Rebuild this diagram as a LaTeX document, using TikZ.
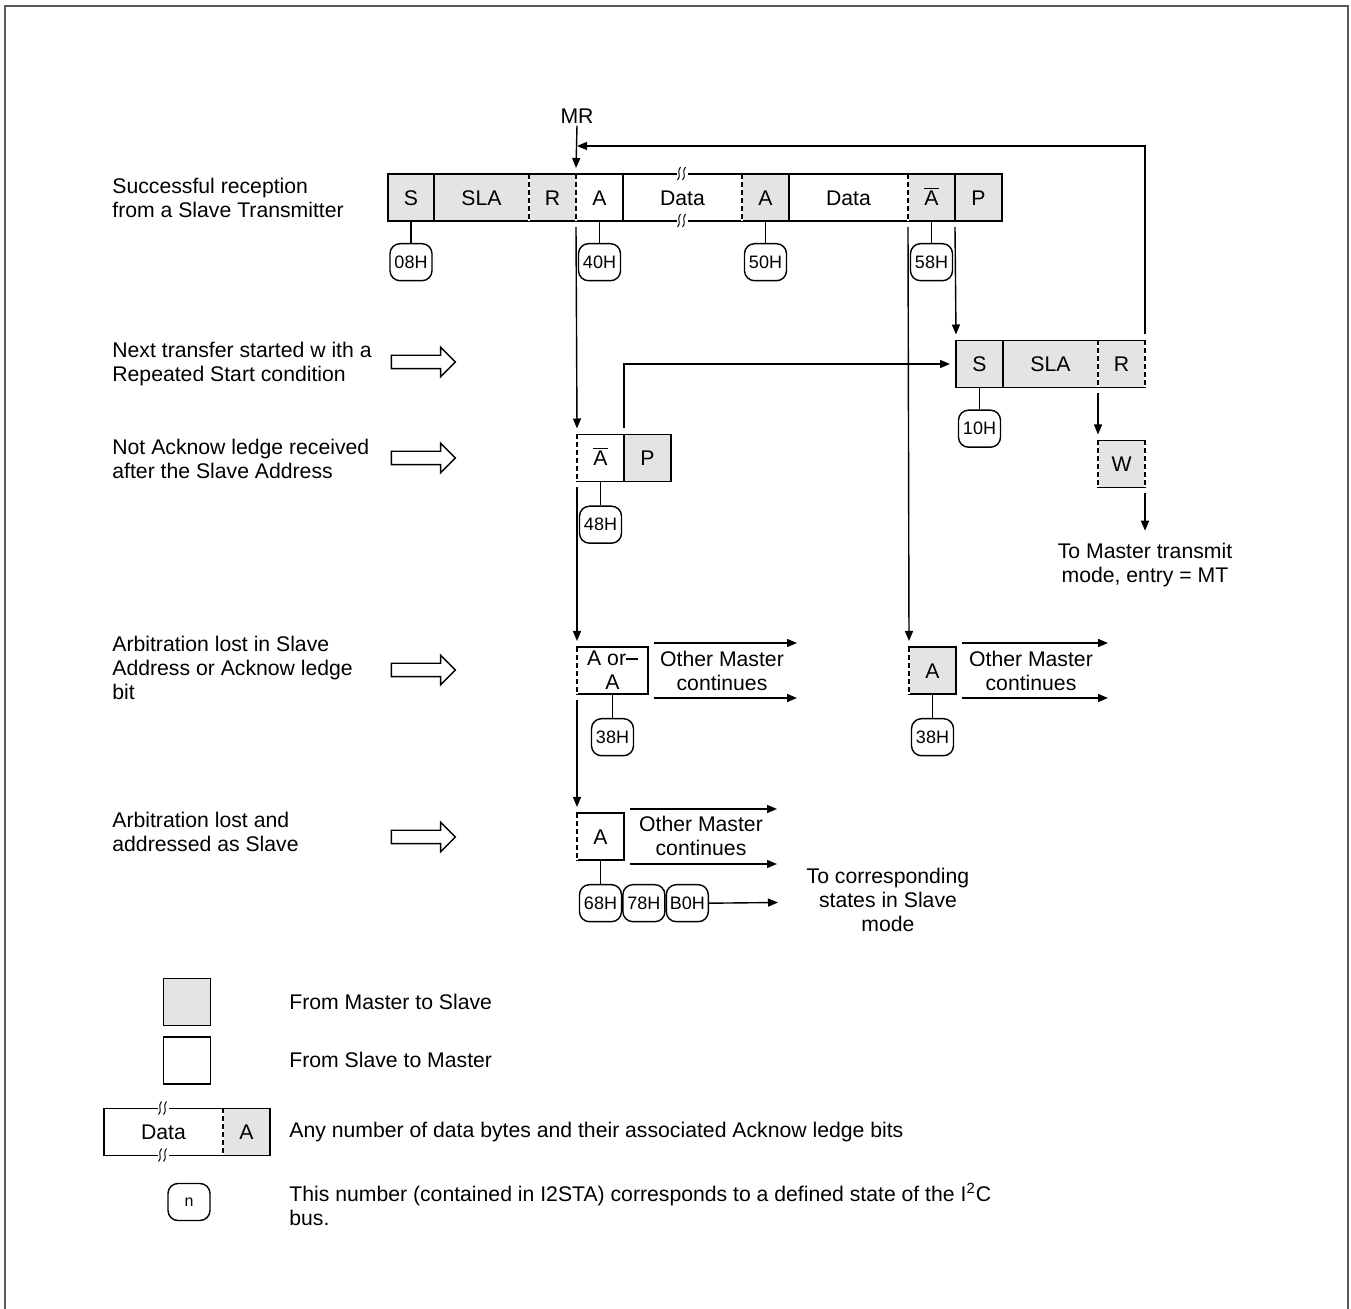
\documentclass[tikz,border=0pt]{standalone}
\usepackage{fontspec}
\setmainfont{Liberation Sans}
\usepackage{tikz}
\usetikzlibrary{arrows.meta,positioning,shapes.arrows}
\definecolor{I2CGrey}{HTML}{E4E4E4}
\definecolor{I2CFrame}{HTML}{5A5A5A}
\newcommand{\nack}{$\overline{\mbox{A}}$}
\tikzset{
  i2ccell/.style={
    draw,
    line width=0.7pt,
    minimum width=23.5pt,
    minimum height=23.5pt,
    text height=8pt,
    text depth=0pt,
    inner sep=0pt,
    outer sep=0pt,
    font=\fontsize{10.6}{12}\selectfont
  },
  i2cmtos/.style={i2ccell, fill=I2CGrey},
  i2cstom/.style={i2ccell, fill=white},
  i2cdash/.style={preaction={draw=white, solid, line width=1.2pt}, draw=black, line width=0.7pt, dash pattern=on 2.5pt off 1.5pt},
  i2ccode/.style={
    draw,
    line width=0.7pt,
    rounded corners=5pt,
    minimum width=21pt,
    minimum height=18.5pt,
    inner sep=0.5pt,
    font=\fontsize{9}{10}\selectfont
  },
  i2cline/.style={line width=0.7pt},
  i2cflow/.style={-{Triangle[length=5pt,width=4pt]}, line width=0.7pt},
  i2clabel/.style={anchor=west, align=left, inner sep=0pt, font=\fontsize{10.6}{12}\selectfont},
  i2ctext/.style={align=center, inner sep=1pt, font=\fontsize{10.6}{12}\selectfont},
  i2chollow/.style={single arrow, draw, line width=0.7pt, minimum height=32pt, single arrow head extend=4pt, inner xsep=0pt, inner ysep=3pt},
  i2cbreak/.pic={
    \fill[white] (-6,-2.5) rectangle (5,2.5);
    \draw[line width=0.5pt] (-5,6) .. controls (-1,3) and (-6,-3) .. (-2,-7);
    \draw[line width=0.5pt] (0,6) .. controls (4,3) and (-1,-3) .. (3,-7);
  }
}

\begin{document}
\begin{tikzpicture}[x=0.5pt, y=-0.5pt]
  \useasboundingbox (0,0) rectangle (1351,1309);
  \draw[I2CFrame, line width=1pt] (5,1309) -- (5,6) -- (1348,6) -- (1348,1309);

  \node[i2clabel] (l1) at (112,197.5) {Successful reception\\from a Slave Transmitter};
  \node[i2clabel] (l2) at (112,364) {Next transfer started w ith a\\Repeated Start condition};
  \node[i2clabel] (l3) at (112,459) {Not Acknow ledge received\\after the Slave Address};
  \node[i2clabel] (l4) at (112,668) {Arbitration lost in Slave\\Address or Acknow ledge\\bit};
  \node[i2clabel] (l5) at (112,832) {Arbitration lost and\\addressed as Slave};
  \node[i2chollow] (h2) at (420,362) {};
  \node[i2chollow] (h3) at (420,458) {};
  \node[i2chollow] (h4) at (420,670) {};
  \node[i2chollow] (h5) at (420,837) {};

  \node[i2cmtos, minimum width=23pt, anchor=west] (r1s) at (388,197.5) {S};
  \node[i2cmtos, minimum width=47.5pt, right=0pt of r1s] (r1sla) {SLA};
  \node[i2cmtos, right=0pt of r1sla] (r1r) {R};
  \node[i2cstom, right=0pt of r1r] (r1a) {A};
  \node[i2cstom, minimum width=59.5pt, right=0pt of r1a] (r1d) {Data};
  \node[i2cmtos, right=0pt of r1d] (r1aa) {A};
  \node[i2cstom, minimum width=59.5pt, right=0pt of r1aa] (r1dd) {Data};
  \node[i2cmtos, right=0pt of r1dd] (r1na) {\nack};
  \node[i2cmtos, right=0pt of r1na] (r1p) {P};
  \draw[i2cdash] (r1r.north west) -- (r1r.south west);
  \draw[i2cdash] (r1a.north west) -- (r1a.south west);
  \draw[i2cdash] (r1aa.north west) -- (r1aa.south west);
  \draw[i2cdash] (r1na.north west) -- (r1na.south west);
  \pic at (r1d.north) {i2cbreak};
  \pic at (r1d.south) {i2cbreak};
  \node[i2ccode, below=11pt of r1s] (c08) {08H};
  \node[i2ccode, below=11pt of r1a] (c40) {40H};
  \node[i2ccode, below=11pt of r1aa] (c50) {50H};
  \node[i2ccode, below=11pt of r1na] (c58) {58H};
  \draw[i2cline] (r1s.south) -- (c08.north);
  \draw[i2cline] (r1a.south) -- (c40.north);
  \draw[i2cline] (r1aa.south) -- (c50.north);
  \draw[i2cline] (r1na.south) -- (c58.north);

  \node[i2ctext] (mr) at (577,116) {MR};
  \coordinate (mrjoin) at (577,146);
  \draw[i2cflow] (mr.south) -- ([yshift=3pt]r1a.north west);

  \node[i2cmtos, anchor=west] (r2s) at (956,364) {S};
  \node[i2cmtos, minimum width=47.5pt, right=0pt of r2s] (r2sla) {SLA};
  \node[i2cmtos, right=0pt of r2sla] (r2r) {R};
  \draw[i2cdash] (r2r.north west) -- (r2r.south west);
  \draw[i2cdash] (r2r.north east) -- (r2r.south east);
  \node[i2ccode, below=11pt of r2s] (c10) {10H};
  \draw[i2cline] (r2s.south) -- (c10.north);
  \draw[i2cflow] ([yshift=3pt]r2r.north east) |- (mrjoin);

  \node[i2cstom, anchor=west] (r3na) at (577,458) {\nack};
  \node[i2cmtos, right=0pt of r3na] (r3p) {P};
  \draw[i2cdash] (r3na.north west) -- (r3na.south west);
  \node[i2ccode, below=12pt of r3na] (c48) {48H};
  \draw[i2cline] (r3na.south) -- (c48.north);

  \node[i2cmtos, anchor=west] (r3w) at (1098,464) {W};
  \draw[i2cdash] (r3w.north west) -- (r3w.south west);
  \draw[i2cdash] (r3w.north east) -- (r3w.south east);
  \node[i2ctext] (tomt) at (1145,565) {To Master transmit\\mode, entry = MT};

  \node[i2cstom, minimum width=35.5pt, text height=19.5pt, text depth=0pt, align=center, anchor=west] (r4ao) at (577,670.5) {A or\rule[0.3em]{0.55em}{0.6pt}\\A};
  \draw[i2cdash] (r4ao.north west) -- (r4ao.south west);
  \node[i2ccode, below=12pt of r4ao] (c38a) {38H};
  \draw[i2cline] (r4ao.south) -- (c38a.north);
  \node[i2ctext] (om1) at (722,670.5) {Other Master\\continues};
  \coordinate (om1n) at (797,643);
  \coordinate (om1s) at (797,698);
  \draw[i2cflow] ([xshift=3pt,yshift=2pt]r4ao.north east) -- (om1n);
  \draw[i2cflow] ([xshift=3pt,yshift=-2pt]r4ao.south east) -- (om1s);

  \node[i2cmtos, anchor=west] (r4a) at (909,670.5) {A};
  \draw[i2cdash] (r4a.north west) -- (r4a.south west);
  \node[i2ccode, below=12pt of r4a] (c38b) {38H};
  \draw[i2cline] (r4a.south) -- (c38b.north);
  \node[i2ctext] (om2) at (1031,670.5) {Other Master\\continues};
  \coordinate (om2n) at (1108,643);
  \coordinate (om2s) at (1108,698);
  \draw[i2cflow] ([xshift=3pt,yshift=2pt]r4a.north east) -- (om2n);
  \draw[i2cflow] ([xshift=3pt,yshift=-2pt]r4a.south east) -- (om2s);

  \node[i2cstom, anchor=west] (r5a) at (577,836.5) {A};
  \draw[i2cdash] (r5a.north west) -- (r5a.south west);
  \node[i2ctext] (om3) at (701,835.5) {Other Master\\continues};
  \coordinate (om3n) at (777,809);
  \coordinate (om3s) at (777,864);
  \draw[i2cflow] ([xshift=3pt,yshift=2pt]r5a.north east) -- (om3n);
  \draw[i2cflow] ([xshift=3pt,yshift=-2pt]r5a.south east) -- (om3s);
  \node[i2ccode, below=12pt of r5a] (c68) {68H};
  \node[i2ccode, right=0pt of c68] (c78) {78H};
  \node[i2ccode, right=0pt of c78] (cb0) {B0H};
  \draw[i2cline] (r5a.south) -- (c68.north);
  \node[i2ctext] (slv) at (888,900) {To corresponding\\states in Slave\\mode};
  \coordinate (slvin) at (778,902.5);
  \draw[i2cflow] (cb0.east) -- (slvin);

  \draw[i2cflow] ([yshift=-3pt]r1a.south west) -- ([yshift=3pt]r3na.north west);
  \draw[i2cflow] ([yshift=-3pt]r3na.south west) -- ([yshift=3pt]r4ao.north west);
  \draw[i2cflow] ([yshift=-3pt]r4ao.south west) -- ([yshift=3pt]r5a.north west);
  \draw[i2cflow] ([yshift=-3pt]r1na.south west) -- ([yshift=3pt]r4a.north west);
  \draw[i2cflow] ([yshift=-3pt]r1p.south west) -- ([yshift=3pt]r2s.north west);
  \draw[i2cflow] ([yshift=3pt]r3p.north west) |- ([xshift=-3pt]r2s.west);
  \draw[i2cflow] ([yshift=-3pt]r2r.south west) -- ([yshift=3pt]r3w.north west);
  \draw[i2cflow] ([yshift=-3pt]r3w.south east) -- ([yshift=5pt]tomt.north);

  \node[i2cmtos] (lgm) at (187,1002) {};
  \node[i2clabel] (tgm) at (289,1002) {From Master to Slave};
  \node[i2cstom] (lsm) at (187,1060.5) {};
  \node[i2clabel] (tsm) at (289,1060) {From Slave to Master};
  \node[i2cstom, minimum width=59.5pt, anchor=west] (ld) at (104,1132) {Data};
  \node[i2cmtos, right=0pt of ld] (la) {A};
  \draw[i2cdash] (la.north west) -- (la.south west);
  \pic at (ld.north) {i2cbreak};
  \pic at (ld.south) {i2cbreak};
  \node[i2clabel] (tdata) at (289,1132) {Any number of data bytes and their associated Acknow ledge bits};
  \node[i2ccode, font=\fontsize{8}{9}\selectfont] (ln) at (189,1202) {n};
  \node[i2clabel] (tn) at (289,1204) {This number (contained in I2STA) corresponds to a defined state of the I\textsuperscript{2}C\\bus.};
\end{tikzpicture}
\end{document}
